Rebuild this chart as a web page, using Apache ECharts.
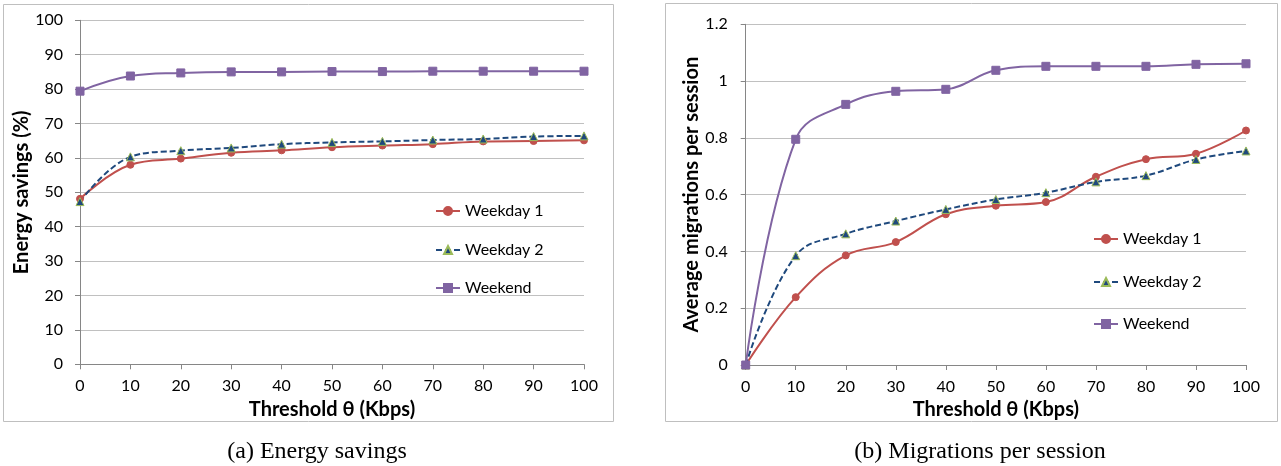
<!DOCTYPE html>
<html>
<head>
<meta charset="utf-8">
<script src="https://cdn.jsdelivr.net/npm/echarts@6/dist/echarts.min.js"></script>
<style>
html,body{margin:0;padding:0;background:#fff;}
#chart{width:1281px;height:466px;}
</style>
</head>
<body>
<div id="chart"></div>
<script>
// ---- data ----
const thresholds = [0, 10, 20, 30, 40, 50, 60, 70, 80, 90, 100];
const seriesNames = ['Weekday 1', 'Weekday 2', 'Weekend'];
const energyWeekday1 = [48.1, 58.0, 59.8, 61.5, 62.2, 63.1, 63.6, 64.0, 64.8, 64.9, 65.1];
const energyWeekday2 = [47.3, 60.3, 62.1, 62.9, 64.0, 64.5, 64.8, 65.2, 65.5, 66.2, 66.4];
const energyWeekend  = [79.4, 83.8, 84.7, 85.0, 85.0, 85.1, 85.1, 85.2, 85.2, 85.2, 85.2];
const migWeekday1 = [0, 0.239, 0.386, 0.433, 0.531, 0.561, 0.574, 0.663, 0.725, 0.744, 0.826];
const migWeekday2 = [0, 0.385, 0.462, 0.507, 0.548, 0.583, 0.607, 0.645, 0.667, 0.724, 0.754];
const migWeekend  = [0, 0.795, 0.918, 0.964, 0.971, 1.038, 1.052, 1.052, 1.052, 1.059, 1.061];
const xTitle = 'Threshold θ (Kbps)';
const yTitleA = 'Energy savings (%)';
const yTitleB = 'Average migrations per session';
const captionA = '(a) Energy savings';
const captionB = '(b) Migrations per session';

// ---- styling ----
const FONT = 'Lato';
const axisGray = '#868686';
const gridGray = '#C0C0C0';
const styles = [
  {color: '#C0504D', symbol: 'circle', size: 7, type: 'solid', border: '#C0504D'},
  {color: '#1F497D', symbol: 'triangle', size: 8, type: [6, 3], border: '#9BBB59'},
  {color: '#8064A2', symbol: 'rect', size: 8, type: 'solid', border: '#8064A2'}
];

function pairs(ys) { return thresholds.map((x, i) => [x, ys[i]]); }

function mkSeries(name, ys, idx, st) {
  return {
    name: name, type: 'line', xAxisIndex: idx, yAxisIndex: idx,
    data: pairs(ys), smooth: 0.4,
    symbol: st.symbol, symbolSize: st.size,
    lineStyle: {color: st.color, width: 2, type: st.type},
    itemStyle: {color: st.color, borderColor: st.border, borderWidth: 1},
    emphasis: {disabled: true}, animation: false
  };
}

function xAxisCfg(idx) {
  return {
    type: 'value', gridIndex: idx, min: 0, max: 100, interval: 10,
    name: xTitle, nameLocation: 'middle', nameGap: 34,
    nameTextStyle: {fontFamily: FONT, fontWeight: 'bold', fontSize: 20, color: '#000'},
    axisLine: {show: true, onZero: false, lineStyle: {color: axisGray, width: 1}},
    axisTick: {show: true, length: 5, inside: false, lineStyle: {color: axisGray}},
    axisLabel: {fontFamily: FONT, fontSize: 16, color: '#000', margin: 14},
    splitLine: {show: false}
  };
}

function yAxisCfg(idx, min, max, interval, name, gap, fmt, margin) {
  return {
    type: 'value', gridIndex: idx, min: min, max: max, interval: interval,
    name: name, nameLocation: 'middle', nameGap: gap, nameRotate: 90,
    nameTextStyle: {fontFamily: FONT, fontWeight: 'bold', fontSize: 20, color: '#000'},
    axisLine: {show: true, lineStyle: {color: axisGray, width: 1}},
    axisTick: {show: true, length: 5, inside: false, lineStyle: {color: axisGray}},
    axisLabel: {fontFamily: FONT, fontSize: 16, color: '#000', margin: margin, formatter: fmt},
    splitLine: {show: true, lineStyle: {color: gridGray, width: 1}}
  };
}

function legendCfg(name, left, top) {
  return {
    data: [name], left: left, top: top, padding: 0,
    orient: 'vertical', itemWidth: 24, itemHeight: 10, itemGap: 0,
    textStyle: {fontFamily: FONT, fontSize: 16, color: '#000', lineHeight: 16},
    selectedMode: false
  };
}

const chart = echarts.init(document.getElementById('chart'), null, {renderer: 'canvas'});
chart.setOption({
  backgroundColor: '#fff',
  animation: false,
  grid: [
    {left: 80, right: 697, top: 20.3, bottom: 101.7, containLabel: false},
    {left: 745.7, right: 35, top: 24.3, bottom: 101, containLabel: false}
  ],
  xAxis: [xAxisCfg(0), xAxisCfg(1)],
  yAxis: [
    yAxisCfg(0, 0, 100, 10, yTitleA, 47, v => String(v), 17),
    yAxisCfg(1, 0, 1.2, 0.2, yTitleB, 43, v => String(Math.round(v * 10) / 10), 18)
  ],
  legend: [
    legendCfg(seriesNames[0], 435, 203),
    legendCfg(seriesNames[1], 435, 242),
    legendCfg(seriesNames[2], 435, 280),
    legendCfg(seriesNames[0], 1093, 231),
    legendCfg(seriesNames[1], 1093, 274),
    legendCfg(seriesNames[2], 1093, 316)
  ],
  graphic: [
    {type: 'rect', shape: {x: 3.5, y: 4.5, width: 610, height: 417}, style: {fill: 'none', stroke: '#BFBFBF', lineWidth: 1}, silent: true},
    {type: 'rect', shape: {x: 665.5, y: 3.5, width: 612, height: 418}, style: {fill: 'none', stroke: '#BFBFBF', lineWidth: 1}, silent: true},
    {type: 'text', x: 317, y: 452, style: {text: captionA, fontFamily: 'Liberation Serif', fontSize: 24, fill: '#000', textAlign: 'center', textVerticalAlign: 'middle'}, silent: true},
    {type: 'text', x: 980, y: 452, style: {text: captionB, fontFamily: 'Liberation Serif', fontSize: 24, fill: '#000', textAlign: 'center', textVerticalAlign: 'middle'}, silent: true}
  ],
  series: [
    mkSeries(seriesNames[0], energyWeekday1, 0, styles[0]),
    mkSeries(seriesNames[1], energyWeekday2, 0, styles[1]),
    mkSeries(seriesNames[2], energyWeekend, 0, styles[2]),
    mkSeries(seriesNames[0], migWeekday1, 1, styles[0]),
    mkSeries(seriesNames[1], migWeekday2, 1, styles[1]),
    mkSeries(seriesNames[2], migWeekend, 1, styles[2])
  ]
});
</script>
</body>
</html>
